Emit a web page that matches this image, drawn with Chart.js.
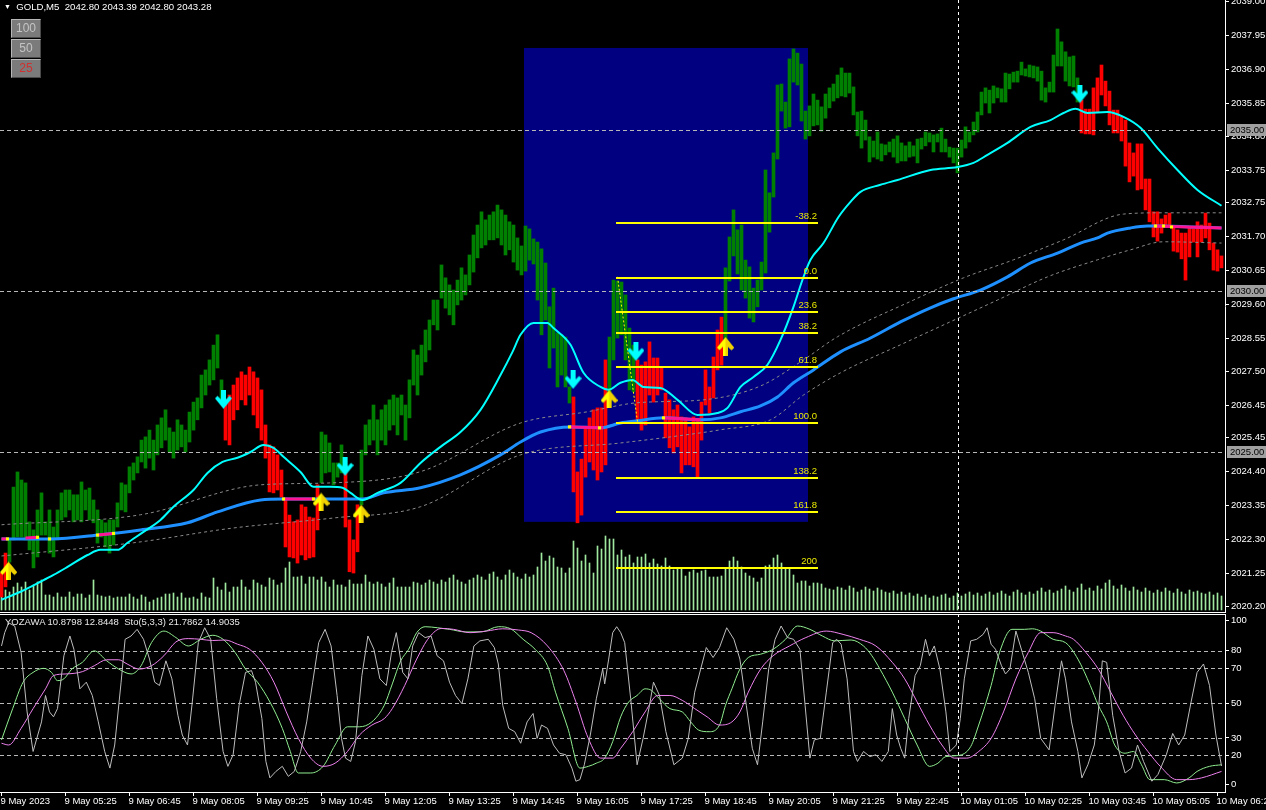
<!DOCTYPE html>
<html>
<head>
<meta charset="utf-8">
<title>GOLD,M5</title>
<script src="https://cdn.jsdelivr.net/npm/chart.js@4.4.1/dist/chart.umd.min.js"></script>
<style>
html,body{margin:0;padding:0;background:#000;width:1266px;height:810px;overflow:hidden;}
#wrap{position:relative;width:1266px;height:810px;background:#000;}
canvas{position:absolute;left:0;display:block;}
#c1{top:0;}
#c2{top:613px;}
.t{position:absolute;font-family:"Liberation Sans",Arial,sans-serif;color:#fff;white-space:pre;line-height:1;}
.btn{position:absolute;left:11px;width:28px;height:17px;background:#7b7b7b;border:1px solid;border-color:#b8b8b8 #4a4a4a #4a4a4a #b8b8b8;font-family:"Liberation Sans",Arial,sans-serif;font-size:12px;line-height:17px;text-align:center;color:#c4c4c4;}
</style>
</head>
<body>
<div id="wrap">
<canvas id="c1" width="1266" height="613"></canvas>
<canvas id="c2" width="1266" height="197"></canvas>
<div class="t" style="left:4px;top:2px;font-size:9.6px;"><span style="font-size:7px;vertical-align:1px">▼</span>  GOLD,M5  2042.80 2043.39 2042.80 2043.28</div>
<div class="btn" style="top:19px">100</div>
<div class="btn" style="top:39px">50</div>
<div class="btn" style="top:59px;color:#d03030">25</div>
<div class="t" style="left:5px;top:617px;font-size:9.5px;color:#e8e8e8">YOZAWA 10.8798 12.8448  Sto(5,3,3) 21.7862 14.9035</div>
</div>
<script>
// ---------------- DATA ----------------
const timeLabels = ["9 May 2023","9 May 05:25","9 May 06:45","9 May 08:05","9 May 09:25","9 May 10:45","9 May 12:05","9 May 13:25","9 May 14:45","9 May 16:05","9 May 17:25","9 May 18:45","9 May 20:05","9 May 21:25","9 May 22:45","10 May 01:05","10 May 02:25","10 May 03:45","10 May 05:05","10 May 06:25"];
const timeTickIdx = [0,16,32,48,64,80,96,112,128,144,160,176,192,208,224,240,256,272,288,304];
const priceTicks = [2039.00,2037.95,2036.90,2035.85,2034.80,2033.75,2032.75,2031.70,2030.65,2029.60,2028.55,2027.50,2026.45,2025.45,2024.40,2023.35,2022.30,2021.25,2020.20];
const priceLines = [2035.00,2030.00,2025.00];
const stochTickPos = [97.1,80,70,50,30,20,3.4];
const stochTickText = ["100","80","70","50","30","20","0"];
const stochLevels = [80,70,50,30,20];
const daySeparator = 239.1;

const barOpen = [
2021.25,2021.87,2021.59,2022.28,2022.37,2022.37,2022.28,2021.97,2021.41,2021.75,
2022.43,2022.43,2021.87,2021.75,2022.28,2022.90,2022.99,2023.21,2022.84,2022.90,
2022.84,2023.21,2022.90,2022.81,2022.18,2022.37,2022.06,2021.87,2022.12,2022.68,
2023.21,2023.15,2023.74,2024.14,2024.36,2024.70,2024.51,2024.82,2024.45,2024.92,
2025.14,2025.38,2025.01,2024.82,2025.07,2025.17,2025.01,2025.32,2025.69,2026.01,
2026.38,2026.78,2027.09,2027.25,2027.62,2026.63,2026.63,2026.78,2027.09,2027.31,
2027.50,2027.40,2027.65,2027.50,2027.31,2026.94,2025.85,2025.23,2025.17,2024.92,
2024.45,2023.58,2023.05,2022.84,2022.90,2023.37,2023.30,2022.99,2022.96,2023.99,
2024.05,2024.36,2024.39,2023.99,2024.23,2024.36,2024.39,2022.90,2022.28,2023.37,
2023.37,2024.92,2025.23,2025.38,2024.92,2025.38,2025.23,2025.69,2025.85,2025.54,
2026.16,2025.38,2026.07,2027.09,2026.78,2027.40,2027.81,2028.18,2028.96,2028.80,
2029.79,2029.48,2029.27,2028.96,2029.58,2029.73,2029.89,2030.20,2030.60,2031.04,
2031.35,2031.44,2031.60,2031.60,2031.66,2031.44,2031.13,2031.29,2030.91,2030.66,
2030.51,2030.63,2030.97,2030.85,2029.73,2028.65,2029.11,2027.62,2028.24,2027.03,
2027.40,2027.03,2026.53,2026.72,2024.39,2024.79,2025.79,2026.07,2026.32,2026.38,
2026.38,2027.87,2026.41,2027.87,2028.55,2028.65,2027.87,2026.94,2026.88,2027.87,
2027.71,2027.81,2028.43,2027.93,2027.93,2027.62,2026.84,2026.63,2026.32,2026.47,
2026.10,2026.07,2025.79,2026.10,2026.01,2026.56,2027.56,2027.03,2027.96,2028.80,
2029.20,2028.02,2030.32,2031.10,2030.54,2030.04,2029.79,2029.17,2029.05,2029.52,
2030.04,2030.57,2031.84,2032.93,2034.11,2035.60,2035.07,2035.11,2036.50,2036.41,
2035.29,2034.73,2034.83,2035.14,2035.17,2034.98,2035.38,2035.70,2035.91,2036.01,
2036.07,2036.04,2036.16,2035.48,2034.83,2034.45,2034.70,2034.02,2034.17,2034.11,
2034.05,2034.24,2034.33,2034.17,2033.99,2034.05,2034.05,2034.17,2034.20,2033.99,
2034.42,2034.52,2034.64,2034.33,2034.64,2034.33,2034.33,2034.17,2033.99,2033.68,
2034.17,2034.45,2034.64,2034.86,2034.95,2035.48,2035.85,2035.54,2035.85,2036.01,
2035.88,2035.88,2036.29,2036.50,2036.50,2036.72,2036.69,2036.66,2036.63,2036.53,
2035.94,2035.88,2036.19,2036.19,2037.00,2037.00,2036.53,2036.38,2036.35,2035.88,
2035.94,2035.66,2035.66,2036.32,2036.63,2037.03,2036.53,2036.22,2035.63,2035.63,
2035.42,2035.32,2034.61,2034.30,2034.58,2034.58,2033.49,2033.49,2032.47,2032.47,
2032.25,2032.37,2032.43,2032.00,2031.91,2031.81,2031.81,2032.00,2031.94,2032.16,
2032.06,2032.43,2032.12,2031.50,2031.29,2031.10
];
const barClose = [
2020.51,2020.82,2022.28,2023.92,2024.39,2024.14,2024.05,2022.84,2022.59,2023.21,
2023.74,2022.84,2023.21,2022.68,2023.21,2023.74,2023.83,2023.83,2023.68,2023.68,
2024.08,2023.83,2023.89,2023.52,2023.21,2022.90,2022.81,2022.90,2022.90,2023.43,
2024.05,2023.99,2024.55,2024.67,2024.86,2025.38,2025.48,2025.69,2025.38,2025.85,
2026.07,2026.32,2025.76,2025.63,2026.01,2025.85,2025.69,2026.25,2026.56,2026.69,
2027.40,2027.56,2027.87,2028.33,2028.65,2027.25,2025.38,2025.23,2026.01,2026.32,
2026.63,2026.47,2026.78,2026.16,2025.76,2025.38,2024.82,2023.77,2023.74,2023.83,
2023.61,2022.06,2021.75,2021.72,2021.56,2021.81,2021.66,2021.72,2021.75,2022.59,
2025.63,2025.54,2025.29,2024.67,2024.67,2025.23,2022.68,2021.29,2021.25,2021.91,
2025.07,2025.85,2026.01,2026.47,2026.01,2026.32,2026.47,2026.63,2026.78,2026.69,
2026.78,2026.47,2027.25,2028.18,2028.02,2028.33,2028.80,2029.11,2029.73,2029.73,
2030.82,2030.42,2030.20,2030.04,2030.35,2030.73,2030.51,2031.13,2031.75,2032.06,
2032.47,2032.22,2032.37,2032.47,2032.68,2032.53,2032.37,2032.16,2032.06,2031.66,
2031.41,2032.03,2031.94,2031.63,2031.53,2031.32,2030.88,2029.52,2030.10,2028.71,
2028.65,2028.58,2027.03,2023.77,2022.81,2023.05,2024.23,2024.70,2024.45,2024.14,
2024.39,2024.61,2028.58,2030.35,2030.32,2030.29,2029.89,2028.86,2028.33,2026.01,
2025.69,2025.85,2026.78,2026.56,2026.78,2026.94,2025.45,2025.14,2024.98,2025.17,
2024.36,2024.61,2024.61,2024.55,2024.23,2025.38,2026.47,2026.22,2026.69,2027.56,
2027.71,2030.73,2031.69,2032.53,2031.91,2032.06,2030.97,2030.76,2030.10,2030.35,
2030.91,2033.77,2033.06,2034.30,2036.41,2036.44,2035.88,2037.22,2037.53,2037.40,
2037.06,2035.60,2035.76,2036.13,2035.94,2035.73,2036.13,2036.32,2036.44,2036.72,
2036.94,2036.78,2036.78,2036.35,2035.57,2035.60,2035.32,2034.80,2034.67,2034.95,
2034.58,2034.55,2034.64,2034.73,2034.83,2034.61,2034.52,2034.64,2034.52,2034.73,
2034.76,2034.95,2034.92,2034.86,2034.89,2035.07,2034.73,2034.48,2034.45,2034.45,
2034.70,2035.11,2034.95,2035.26,2035.57,2036.19,2036.32,2036.25,2036.38,2036.32,
2036.29,2036.78,2036.75,2036.81,2036.84,2037.12,2036.91,2037.03,2037.00,2036.97,
2036.84,2036.32,2036.50,2037.34,2038.15,2037.75,2037.44,2037.28,2037.31,2036.63,
2034.92,2034.89,2034.89,2034.86,2035.57,2036.10,2035.76,2035.17,2034.92,2034.92,
2034.67,2033.89,2033.40,2033.58,2033.15,2033.18,2032.53,2032.16,2031.69,2031.56,
2031.81,2032.00,2032.00,2031.25,2031.22,2031.01,2030.35,2031.07,2031.53,2031.07,
2031.53,2031.66,2031.29,2030.66,2030.63,2030.73
];
const tickVolume = [
17,20,18,23,27,23,28,20,25,28,
30,15,15,13,17,13,13,18,13,16,
16,12,15,30,15,14,13,14,12,13,
13,13,16,13,11,15,13,8,10,12,
13,16,16,17,13,17,12,12,13,11,
17,13,12,32,23,20,27,18,23,23,
30,23,20,30,27,25,23,32,30,25,
27,42,48,33,33,34,26,33,33,30,
33,28,23,30,25,25,23,30,26,26,
26,35,28,26,28,26,23,27,32,23,
23,23,23,28,27,25,27,30,28,26,
30,28,32,35,30,28,26,30,32,35,
33,30,36,38,33,30,35,40,37,33,
31,36,33,35,43,57,49,54,52,43,
42,37,42,69,62,49,55,47,37,64,
61,74,71,71,55,60,53,55,47,53,
53,56,47,51,46,44,52,44,40,42,
42,34,38,40,37,39,40,33,33,33,
34,41,49,53,49,43,37,34,32,28,
32,44,45,52,55,47,41,41,35,27,
29,29,24,27,27,26,22,21,20,23,
22,20,24,22,18,20,23,21,19,22,
20,18,17,19,16,18,15,17,14,16,
13,15,12,14,13,15,16,12,14,17,
14,16,18,15,17,14,16,18,15,17,
19,16,14,18,20,17,15,18,16,19,
22,18,20,17,19,21,24,20,18,22,
26,20,22,19,24,21,27,30,24,21,
25,22,19,23,20,18,22,19,17,20,
18,22,19,17,21,18,16,20,18,19,
17,16,18,15,17,14
];
// moving averages: [bar index, price]
const cyanMA = [[0,2020.42],[4.75,2020.67],[9.75,2020.98],[13,2021.19],[16.5,2021.44],[21.5,2021.81],[24.75,2021.97],[29,2021.97],[31.5,2022.19],[35.5,2022.53],[39.75,2022.90],[43,2023.31],[48,2023.83],[51.5,2024.36],[55.25,2024.70],[59,2024.83],[62.25,2025.01],[65.5,2025.23],[68,2025.14],[70.5,2024.86],[74.75,2024.39],[78,2023.93],[82.25,2023.93],[85.25,2023.90],[87.25,2023.74],[90.25,2023.52],[94,2023.74],[99.75,2024.05],[104.75,2024.67],[109.75,2025.17],[114.75,2025.63],[119.75,2026.32],[124.75,2027.40],[127.75,2028.12],[129.75,2028.65],[133,2029.02],[136.5,2029.02],[138,2028.86],[142.25,2028.34],[145.5,2027.47],[149.75,2027.03],[151.75,2026.94],[154.75,2027.16],[157.75,2027.25],[160.5,2027.03],[164.75,2027.00],[169,2026.63],[174,2026.16],[179,2026.22],[181.5,2026.38],[184.75,2027.03],[188,2027.34],[191.5,2027.72],[194.75,2028.49],[198,2029.52],[200.25,2030.36],[202.25,2030.98],[205.5,2031.50],[209.25,2032.31],[212.25,2032.78],[214.75,2033.09],[219.75,2033.31],[224,2033.46],[232.25,2033.77],[239,2033.86],[243,2033.99],[246.5,2034.24],[251.5,2034.61],[257.25,2035.11],[262.25,2035.32],[265.5,2035.54],[268.5,2035.67],[271.5,2035.54],[276.5,2035.57],[280.5,2035.42],[284.75,2035.08],[289,2034.45],[294,2033.77],[299,2033.15],[305,2032.66]];
const blueMA = [[0,2022.31],[12.25,2022.31],[24.75,2022.44],[34.75,2022.59],[46.5,2022.81],[54,2023.15],[64.75,2023.52],[70.5,2023.55],[83,2023.55],[90.25,2023.55],[95.5,2023.74],[104.75,2023.90],[114.75,2024.30],[124.75,2024.92],[129.75,2025.32],[134.75,2025.63],[142.25,2025.79],[149.75,2025.76],[154.75,2025.91],[159,2025.98],[165.5,2026.07],[174.75,2026.01],[179.75,2026.07],[184.75,2026.26],[189.75,2026.44],[194,2026.72],[198,2027.16],[203,2027.56],[209.75,2028.12],[217.25,2028.55],[224.75,2029.05],[232.25,2029.49],[238,2029.77],[244.75,2030.04],[251.5,2030.45],[257.25,2030.88],[264,2031.19],[269.75,2031.50],[274,2031.66],[276.5,2031.81],[282.25,2031.97],[286.5,2032.03],[290.5,2032.03],[297.25,2032.00],[305,2031.97]];
const envUpper = [[0,2022.75],[34.75,2023.06],[64.75,2023.99],[82.25,2024.05],[104.75,2024.40],[129.75,2025.91],[146.5,2026.26],[159,2026.54],[175.5,2026.63],[189.75,2027.06],[200.5,2027.87],[209,2028.59],[228,2029.73],[240.5,2030.42],[253,2030.98],[265.5,2031.60],[280.5,2032.40],[290.5,2032.44],[305,2032.44]];
const envLower = [[0,2021.78],[33,2022.19],[58,2022.65],[83,2022.96],[104.75,2023.31],[129.75,2024.92],[154.75,2025.29],[167.25,2025.48],[179.75,2025.70],[192.25,2026.01],[200.5,2026.78],[209.75,2027.47],[224.75,2028.34],[249,2029.73],[261.5,2030.45],[274,2030.98],[282.25,2031.29],[290.5,2031.54],[305,2031.50]];
const flatSegments = [
 [[0,2022.31],[1.5,2022.31]],
 [[6,2022.34],[9,2022.36]],
 [[24,2022.43],[28,2022.48]],
 [[70.5,2023.55],[78,2023.55]],
 [[142,2025.79],[150.5,2025.76]],
 [[165.5,2026.07],[174.75,2026.01]],
 [[288,2032.03],[305,2031.97]]
];
const flatMarks = [[1.5,2022.31],[9,2022.36],[12,2022.31],[24,2022.43],[28,2022.48],[70.5,2023.55],[78,2023.55],[142,2025.79],[149.5,2025.76],[165.5,2026.07],[288.5,2032.03],[290.5,2032.03],[292.5,2032.00]];
const sellArrows = [[55.5,2026.63],[85.9,2024.55],[142.9,2027.25],[158.6,2028.12],[269.6,2036.13]];
const buyArrows = [[1.75,2021.32],[79.9,2023.46],[89.9,2023.09],[151.9,2026.66],[181,2028.30]];
// Fibonacci retracement
const fibHigh = 2030.45, fibLow = 2025.95;
const fibFrom = 154, fibTo = 204;
const fibLevels = [-38.2,0,23.6,38.2,61.8,100,138.2,161.8,200];
const fibLabels = ["-38.2","0.0","23.6","38.2","61.8","100.0","138.2","161.8","200"];
const fibBox = {from:131, to:202, top:2037.56, bottom:2022.84};
const fibTrend = [[154,2030.45],[159,2025.95]];
// indicator window
const stochMain = [[0,28.9],[2.8,46.8],[5.4,61.9],[7.9,67.5],[10.5,69.8],[12.5,67.5],[14,62.8],[15.6,63.8],[17.6,69.4],[20.2,73.2],[23.2,79.8],[26.3,74.1],[29.3,69.4],[32.4,66.6],[34.9,71.3],[37.5,84.5],[40.6,91.1],[43.6,87.4],[46.7,82.6],[49.8,86.4],[52.8,88.7],[55.4,86.4],[58.4,78.9],[61,69.4],[64,61.9],[67.1,50.6],[70.2,35.5],[72.2,22.3],[74.2,10],[77.3,10],[80.4,13.8],[83.4,26],[86.5,36.4],[89.5,36.4],[92.6,39.2],[95.7,48.7],[97.7,60.9],[99.8,74.1],[101.8,80.7],[103.8,90.2],[105.9,93.6],[109,93],[112,92.1],[116.1,90.6],[120.2,90.7],[124.2,93.6],[127.3,92.4],[130.4,86.4],[133.4,80.7],[136.5,71.3],[138.5,56.2],[141.6,35.5],[144.6,12.8],[146.7,13.8],[148.7,15.6],[150.8,18.5],[152.8,27.9],[154.8,42.1],[156.8,50.6],[158.9,54.3],[160.9,58.1],[162.5,57.2],[164.5,52.4],[167.1,46.8],[170.2,44.9],[172.3,39.2],[174.3,34.5],[176.9,33.6],[179.5,37.4],[181,48.7],[182.6,58.1],[184.6,69.4],[186.7,76],[189.8,77.9],[192.9,80.7],[196,86.4],[199,94],[202.1,92.1],[205.2,88.3],[208.3,85.5],[212.4,86],[215.5,82.6],[217.6,77],[219.6,69.4],[222.7,56.2],[225.8,41.1],[228.9,26],[232,13.8],[234.1,15.6],[236.1,19.4],[239.2,20],[242.3,25.1],[244.3,37.4],[247.4,60],[249.5,78.9],[252.6,92.1],[255.7,92.1],[257.7,92.4],[259.8,91.1],[262.9,86.4],[266,84.5],[269.1,75.1],[272.2,60],[274.2,48.7],[276.3,39.2],[278.3,26],[280.9,21.3],[283,22.3],[285,14.7],[287.1,6.2],[290.7,6.2],[293.8,4.3],[296.9,7.2],[298.9,10.9],[302,13.8],[305,14.7]];
const stochSignal = [[0,27],[1.8,26],[4.9,35.5],[7.9,46.8],[11,58.1],[13,65.7],[16.1,66.6],[20.2,67.9],[23.2,71.3],[26.3,74.7],[29.3,74.7],[31.4,72.3],[34.4,69.4],[37.5,71.3],[40.6,77],[43.6,84.9],[46.7,86.8],[49.8,86.4],[52.8,85.7],[55.9,86],[59,83.6],[62,80.7],[65.1,73.2],[68.1,61.9],[71.2,44.9],[74.2,29.8],[77.3,18.5],[80.4,13.8],[83.4,15.6],[86.5,22.3],[89.5,31.7],[92.6,37.4],[95.7,41.1],[97.7,46.8],[100.8,60],[103.8,75.1],[106.9,87.4],[110,92.6],[113,92.1],[117.1,90.2],[121.2,91.1],[125.3,92.4],[129.3,91.7],[132.4,90.2],[136.5,82.6],[140.6,68.5],[143.6,50.6],[146.7,29.8],[149.8,18.5],[152.8,18.5],[154.8,24.1],[157.8,33.6],[160.9,44.9],[164,54.3],[167.1,54.3],[170.2,51.5],[173.3,46.8],[176.4,42.1],[179.5,37.4],[182.6,39.2],[184.6,44.9],[186.7,56.2],[189.8,69.4],[192.9,77],[197,82.6],[201.1,87.4],[206.2,91.1],[210.4,89.2],[214.5,86.4],[218.6,82.6],[222.7,73.2],[225.8,63.8],[228.9,50.6],[232,37.4],[235.1,26],[238.2,18.5],[241.3,18.5],[244.3,22.3],[247.4,29.8],[250.5,44.9],[253.6,63.8],[256.7,78.9],[259.8,90.2],[262.9,90.2],[266,88.3],[268,86.4],[271.1,78.9],[274.2,69.4],[277.3,56.2],[280.4,43],[283.5,31.7],[286.6,22.3],[289.7,13.8],[293.8,6.2],[296.9,6.2],[300,7.2],[305,10.9]];
const yozawa = [[0,82.6],[0.8,90.2],[1.8,95.8],[3.3,94],[4.9,78.9],[6.4,44.9],[7.9,22.3],[10,39.2],[11,54.3],[12,44.9],[13,42.1],[14,46.8],[15.6,77],[17.1,88.3],[18.1,80.7],[19.6,58.1],[21.2,61.9],[22.7,54.3],[24.2,39.2],[25.8,22.3],[27.1,12.8],[28.3,26],[29.9,61.9],[30.9,86.4],[32.4,88.3],[33.9,92.1],[35.5,86.4],[37,75.1],[38.3,61.9],[39.5,60],[41.1,74.1],[42.6,63.8],[44.1,43],[45.2,31.7],[46.5,26],[47.7,50.6],[49.2,84.5],[50.8,93],[52.3,86.4],[53.8,52.4],[55.4,22.3],[56.6,13.8],[57.9,20.4],[59.4,48.7],[61,67.5],[62.5,68.5],[63.5,61.9],[65.1,41.1],[66.1,16.6],[67.1,7.2],[68.6,10.9],[70.2,13.8],[71.7,8.1],[73.2,10.9],[74.8,22.3],[76.3,39.2],[77.8,61.9],[79.3,84.5],[80.9,92.1],[82.4,82.6],[83.9,54.3],[85,29.8],[86,18.5],[87.3,16.6],[88.5,27.9],[90.1,65.7],[91.6,88.3],[93.1,80.7],[94.6,63.8],[96.2,60],[97.5,78.9],[98.7,90.2],[100.3,67.5],[101.6,63.8],[102.8,82.6],[104.3,90.2],[105.9,87.4],[107.4,88.3],[108.9,77],[110.5,74.1],[112,61.9],[113.5,54.3],[115.1,49.6],[116.6,63.8],[118.1,82.6],[119.6,85.5],[121.7,86.4],[123.2,81.7],[124.2,72.3],[125.3,48.7],[126.8,35.5],[128.3,33.6],[129.8,27],[131.4,39.2],[132.9,44],[133.9,29.8],[135,37.4],[136.5,35.5],[138,26],[139.5,21.3],[141.1,20.4],[142.6,12.8],[143.6,5.3],[144.6,6.2],[145.7,14.7],[147.2,31.7],[148.7,52.4],[150.3,69.4],[150.8,60.9],[151.8,75.1],[152.8,90.2],[153.8,93.6],[154.8,90.2],[155.8,84.5],[157.3,52.4],[158.9,14.7],[160.4,29.8],[162,48.7],[163,61.9],[164.5,54.3],[166.1,33.6],[168.1,14.7],[170.2,18.5],[171.7,29.8],[173.3,56.2],[174.8,69.4],[176.2,81.7],[177.9,76],[179.5,81.7],[181.3,93],[183.1,86.4],[184.6,75.1],[186.2,48.7],[187.7,24.1],[189,14.7],[190.3,39.2],[191.8,69.4],[193.4,86.4],[194.9,94],[196.5,87.4],[198,86.4],[199.6,80.7],[200.9,48.7],[202.1,18.5],[203.2,28.9],[204.7,29.8],[206.2,56.2],[207.8,84.5],[208.8,86.4],[209.9,83.6],[211.4,63.8],[213,22.3],[214,16.6],[215.5,22.3],[217.1,19.4],[218.6,20.4],[220.1,16.6],[221.7,22.3],[222.7,46.8],[223.8,31.7],[224.8,24.1],[225.8,18.5],[226.8,41.1],[228.4,65.7],[229.7,71.3],[231,86.4],[232,77],[233.2,82.6],[234.6,69.4],[236.1,44.9],[237.1,22.3],[238.7,26],[239.7,41.1],[240.7,63.8],[242.3,85.5],[243.8,86.4],[245.4,89.2],[246.4,93],[247.4,83.6],[248.5,80.7],[250,71.3],[251,66.6],[252.1,69.4],[253.6,91.1],[255.2,78.9],[256.7,67.5],[258.3,52.4],[259.8,29.8],[261.9,23.2],[263.4,48.7],[265,74.1],[266,63.8],[267.5,39.2],[269.1,22.3],[270.1,7.2],[271.6,14.7],[273.2,26],[274.2,44.9],[275.2,74.1],[276.3,73.2],[277.8,43],[279.4,22.3],[280.9,10],[282.5,12.8],[284,26],[285.5,16.6],[287.6,5.3],[289.1,9.1],[291.2,20.4],[292.8,32.6],[294.3,26],[295.8,31.7],[297.4,50.6],[298.9,67.5],[300.5,72.3],[302,60],[303.6,31.7],[305,14.0]];

// ---------------- CHARTS ----------------
Chart.defaults.font.family = '"Liberation Sans", Arial, sans-serif';
Chart.defaults.font.size = 9.5;
Chart.defaults.color = '#ffffff';
Chart.defaults.animation = false;

const X_MIN = -0.375, X_MAX = 305.875;
const pts = a => a.map(p => ({x: p[0], y: p[1]}));
const fixY = s => { s.width = 41; s.paddingTop = 0; s.paddingBottom = 0; };
const fixX = s => { s.height = 18; s.paddingLeft = 0; s.paddingRight = 0; };

function makeArrow(color, shade, up) {
  const c = document.createElement('canvas'); c.width = 17; c.height = 19;
  const g = c.getContext('2d');
  const poly = [[6,0],[11,0],[11,9],[14.5,5.5],[17,8],[8.5,18.5],[0,8],[2.5,5.5],[6,9]];
  g.beginPath();
  poly.forEach((p, k) => { const yy = up ? 19 - p[1] : p[1]; if (k) g.lineTo(p[0], yy); else g.moveTo(p[0], yy); });
  g.closePath(); g.fillStyle = color; g.fill();
  if (shade) { g.save(); g.clip(); g.fillStyle = shade; g.fillRect(8.5, 0, 9, 19); g.restore(); }
  return c;
}
const arrowDown = makeArrow('#00ffff', null, false);
const arrowUp = makeArrow('#ffff00', '#f0d000', true);

function vLine(ctx, x, top, bottom) {
  const px = Math.round(x) + 0.5;
  ctx.save(); ctx.strokeStyle = '#ffffff'; ctx.lineWidth = 1; ctx.setLineDash([3, 3]);
  ctx.beginPath(); ctx.moveTo(px, top); ctx.lineTo(px, bottom); ctx.stroke(); ctx.restore();
}

const mainDeco = {
  id: 'mainDeco',
  beforeDatasetsDraw(ch) {
    const {ctx, scales: {x, y}} = ch;
    const x0 = x.getPixelForValue(fibBox.from) - 1.5, x1 = x.getPixelForValue(fibBox.to) - 1.5;
    const y0 = y.getPixelForValue(fibBox.top), y1 = y.getPixelForValue(fibBox.bottom);
    ctx.save(); ctx.fillStyle = '#000080'; ctx.fillRect(x0, y0, x1 - x0, y1 - y0); ctx.restore();
  },
  afterDatasetsDraw(ch) {
    const {ctx, chartArea: a, scales: {x, y}} = ch;
    ctx.save();
    ctx.strokeStyle = '#b8b8b8'; ctx.lineWidth = 1; ctx.setLineDash([4, 3]);
    priceLines.forEach(v => {
      const py = Math.round(y.getPixelForValue(v)) + 0.5;
      ctx.beginPath(); ctx.moveTo(a.left, py); ctx.lineTo(a.right, py); ctx.stroke();
    });
    ctx.strokeStyle = '#ffff00'; ctx.setLineDash([2, 2]);
    ctx.beginPath();
    ctx.moveTo(x.getPixelForValue(fibTrend[0][0]), y.getPixelForValue(fibTrend[0][1]));
    ctx.lineTo(x.getPixelForValue(fibTrend[1][0]), y.getPixelForValue(fibTrend[1][1]));
    ctx.stroke();
    ctx.setLineDash([]);
    const fx0 = x.getPixelForValue(fibFrom) - 1.5, fx1 = x.getPixelForValue(fibTo) + 0.5;
    ctx.font = '9.5px "Liberation Sans", Arial, sans-serif';
    ctx.textAlign = 'right'; ctx.textBaseline = 'bottom';
    fibLevels.forEach((lv, k) => {
      const price = fibHigh - (fibHigh - fibLow) * lv / 100;
      const py = Math.round(y.getPixelForValue(price));
      ctx.fillStyle = '#ffff00'; ctx.fillRect(fx0, py, fx1 - fx0, 2);
      ctx.fillStyle = '#e8e800'; ctx.fillText(fibLabels[k], fx1 - 1, py - 1);
    });
    ctx.restore();
    vLine(ctx, x.getPixelForValue(daySeparator), a.top, a.bottom);
    ctx.save(); ctx.fillStyle = '#ffffff'; ctx.fillRect(0, a.bottom, a.right + 1, 1); ctx.restore();
  },
  afterDraw(ch) {
    const {ctx, chartArea: a, scales: {y}} = ch;
    ctx.save();
    ctx.font = '9.5px "Liberation Sans", Arial, sans-serif';
    ctx.textAlign = 'left'; ctx.textBaseline = 'middle';
    priceLines.forEach(v => {
      const py = Math.round(y.getPixelForValue(v));
      ctx.fillStyle = '#a0a0a0'; ctx.fillRect(a.right + 2, py - 6, 39, 12);
      ctx.fillStyle = '#000000'; ctx.fillText(v.toFixed(2), a.right + 5, py + 0.5);
    });
    ctx.restore();
  }
};

const mainDatasets = [
  {type: 'bar', data: tickVolume.map((v, i) => ({x: i, y: v})), yAxisID: 'yv', backgroundColor: '#9fe89f', barThickness: 1, grouped: false, order: 20},
  {type: 'bar', data: barOpen.map((o, i) => ({x: i, y: [o, barClose[i]]})), yAxisID: 'y',
   backgroundColor: barOpen.map((o, i) => barClose[i] >= o ? '#008000' : '#ff0000'), barThickness: 3, grouped: false, borderWidth: 0, order: 10},
  {type: 'line', data: pts(envUpper), yAxisID: 'y', borderColor: '#8a8a8a', borderWidth: 1, borderDash: [3, 3], pointRadius: 0, cubicInterpolationMode: 'monotone', order: 7},
  {type: 'line', data: pts(envLower), yAxisID: 'y', borderColor: '#8a8a8a', borderWidth: 1, borderDash: [3, 3], pointRadius: 0, cubicInterpolationMode: 'monotone', order: 7},
  {type: 'line', data: pts(blueMA), yAxisID: 'y', borderColor: '#1e90ff', borderWidth: 3, pointRadius: 0, cubicInterpolationMode: 'monotone', order: 6},
];
flatSegments.forEach(seg => mainDatasets.push({type: 'line', data: pts(seg), yAxisID: 'y', borderColor: '#ff1493', borderWidth: 3, pointRadius: 0, order: 5}));
mainDatasets.push(
  {type: 'line', data: pts(flatMarks), yAxisID: 'y', showLine: false, pointStyle: 'rect', pointRadius: 2.2, pointBackgroundColor: '#ffff00', pointBorderWidth: 0, order: 4},
  {type: 'line', data: pts(cyanMA), yAxisID: 'y', borderColor: '#00ffff', borderWidth: 2, pointRadius: 0, cubicInterpolationMode: 'monotone', order: 3},
  {type: 'line', data: pts(sellArrows), yAxisID: 'y', showLine: false, pointStyle: arrowDown, pointRadius: 6, order: 1, clip: false},
  {type: 'line', data: pts(buyArrows), yAxisID: 'y', showLine: false, pointStyle: arrowUp, pointRadius: 6, order: 1, clip: false}
);

new Chart(document.getElementById('c1'), {
  data: {datasets: mainDatasets},
  options: {
    responsive: false, animation: false, events: [],
    layout: {autoPadding: false, padding: {left: 0, top: 0, right: 0, bottom: 1}},
    plugins: {legend: {display: false}, tooltip: {enabled: false}},
    scales: {
      x: {type: 'linear', min: X_MIN, max: X_MAX, offset: false, display: false, grid: {offset: false}},
      y: {type: 'linear', position: 'right', min: 2020.04, max: 2039.05, beginAtZero: false,
          afterBuildTicks: s => { s.ticks = priceTicks.map(v => ({value: v})); },
          afterFit: fixY,
          ticks: {callback: v => Number(v).toFixed(2), autoSkip: false, padding: 2, color: '#ffffff'},
          grid: {display: true, drawOnChartArea: false, drawTicks: true, tickLength: 4, color: '#ffffff'},
          border: {display: true, color: '#ffffff'}},
      yv: {type: 'linear', display: false, min: -2, max: 610, beginAtZero: false}
    }
  },
  plugins: [mainDeco]
});

const subDeco = {
  id: 'subDeco',
  beforeDatasetsDraw(ch) {
    const {ctx, chartArea: a, scales: {y}} = ch;
    ctx.save(); ctx.strokeStyle = '#b8b8b8'; ctx.lineWidth = 1; ctx.setLineDash([4, 3]);
    stochLevels.forEach(v => {
      const py = Math.round(y.getPixelForValue(v)) + 0.5;
      ctx.beginPath(); ctx.moveTo(a.left, py); ctx.lineTo(a.right, py); ctx.stroke();
    });
    ctx.restore();
  },
  afterDatasetsDraw(ch) {
    const {ctx, chartArea: a, scales: {x}} = ch;
    vLine(ctx, x.getPixelForValue(daySeparator), a.top, a.bottom);
    ctx.save(); ctx.fillStyle = '#ffffff'; ctx.fillRect(0, a.top, a.right + 1, 1); ctx.restore();
  }
};

new Chart(document.getElementById('c2'), {
  data: {datasets: [
    {type: 'line', data: pts(yozawa), borderColor: '#bdbdbd', borderWidth: 1, pointRadius: 0, tension: 0},
    {type: 'line', data: pts(stochSignal), borderColor: '#ee82ee', borderWidth: 1, pointRadius: 0, cubicInterpolationMode: 'monotone'},
    {type: 'line', data: pts(stochMain), borderColor: '#90ee90', borderWidth: 1, pointRadius: 0, cubicInterpolationMode: 'monotone'}
  ]},
  options: {
    responsive: false, animation: false, events: [],
    layout: {autoPadding: false, padding: {left: 0, top: 1, right: 0, bottom: 0}},
    plugins: {legend: {display: false}, tooltip: {enabled: false}},
    scales: {
      x: {type: 'linear', min: X_MIN, max: X_MAX, offset: false, position: 'bottom',
          afterBuildTicks: s => { s.ticks = timeTickIdx.map(v => ({value: v})); },
          afterFit: fixX,
          ticks: {callback: v => timeLabels[timeTickIdx.indexOf(v)], autoSkip: false, maxRotation: 0, minRotation: 0, align: 'start', labelOffset: -1, padding: 0, color: '#ffffff'},
          grid: {display: true, drawOnChartArea: false, drawTicks: true, tickLength: 4, color: '#ffffff', offset: false},
          border: {display: true, color: '#ffffff'}},
      y: {type: 'linear', position: 'right', min: -0.86, max: 100.86,
          afterBuildTicks: s => { s.ticks = stochTickPos.map(v => ({value: v})); },
          afterFit: fixY,
          ticks: {callback: v => stochTickText[stochTickPos.indexOf(v)], autoSkip: false, padding: 2, color: '#ffffff'},
          grid: {display: true, drawOnChartArea: false, drawTicks: true, tickLength: 4, color: '#ffffff'},
          border: {display: true, color: '#ffffff'}}
    }
  },
  plugins: [subDeco]
});
</script>
</body>
</html>
